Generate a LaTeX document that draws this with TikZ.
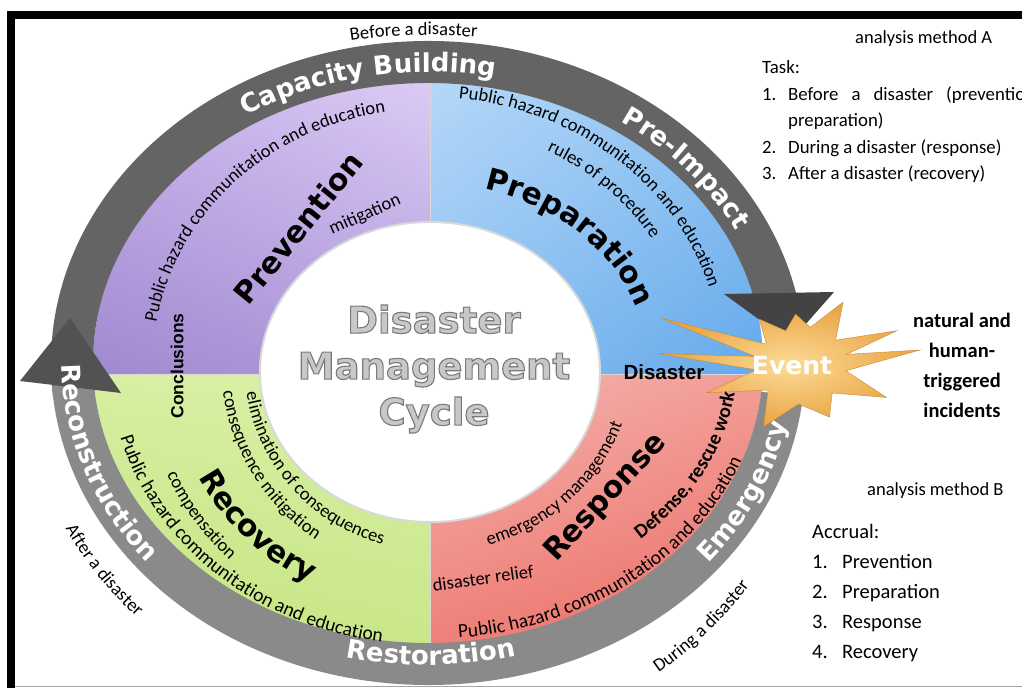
\documentclass[tikz,border=0pt]{standalone}
\usepackage{fontspec}
\setmainfont{Carlito}
\newfontfamily\verd{DejaVu Sans}
\newfontfamily\arialf{Liberation Sans}
\usetikzlibrary{decorations.text,shadings}

\newcommand\lbl{\fontsize{18.5}{22}\selectfont}
\newcommand\lblw{\fontsize{19.5}{23}\selectfont}
\newcommand\boldlbl{\bfseries\fontsize{20}{24}\selectfont}
\newcommand\ringtxt{\verd\bfseries\fontsize{26}{30}\selectfont}
\newcommand\bigword{\verd\bfseries\fontsize{30}{34}\selectfont}

\definecolor{ringtop}{HTML}{646464}
\definecolor{ringbot}{HTML}{8A8A8A}
\definecolor{headright}{HTML}{434343}
\definecolor{headleft}{HTML}{525252}
\definecolor{prevA}{HTML}{DCCBF5}
\definecolor{prevB}{HTML}{C6B1EA}
\definecolor{prevC}{HTML}{A188CF}
\definecolor{prevD}{HTML}{B29CDB}
\definecolor{prepA}{HTML}{B5D8F8}
\definecolor{prepB}{HTML}{92C4F3}
\definecolor{prepC}{HTML}{8CC0F1}
\definecolor{prepD}{HTML}{62A8EB}
\definecolor{respA}{HTML}{F5B5B2}
\definecolor{respB}{HTML}{F29C95}
\definecolor{respC}{HTML}{EE8078}
\definecolor{respD}{HTML}{EA6A62}
\definecolor{recA}{HTML}{D6EFA2}
\definecolor{recB}{HTML}{D9F0A8}
\definecolor{recC}{HTML}{C4E47F}
\definecolor{recD}{HTML}{C9E788}
\definecolor{starin}{HTML}{FCDB95}
\definecolor{starout}{HTML}{E9A444}
\definecolor{staredge}{HTML}{C8892F}
\definecolor{titlefg}{HTML}{C8C8C8}

\tikzset{
    ringarc/.style={line width=42},
    ringlabel/.style={decorate,decoration={text along path,text align=center,
        text color=white,text={|\ringtxt|#1}}},
    qlabel/.style={decorate,decoration={text along path,text align=center,
        text={|\lbl|#1}}},
    qlabelw/.style={decorate,decoration={text along path,text align=center,
        text={|\lblw|#1}}},
    qbold/.style={decorate,decoration={text along path,text align=center,
        text={|\boldlbl|#1}}},
    qbig/.style={decorate,decoration={text along path,text align=center,
        text={|\bigword|#1}}},
}

\begin{document}
\begin{tikzpicture}[x=1pt,y=1pt,
    lbltxt/.style={font=\lbl,inner sep=0},
    bigw/.style={font=\bigword},
    titlew/.style={font=\verd\bfseries\fontsize{37}{46}\selectfont,align=center}]
    \def\ringa{356}
    \def\ringb{301}
    \useasboundingbox (0,0) rectangle (1022,688);
    \fill[white] (0,0) rectangle (1022,688);

    % frame
    \fill[black] (7,669) rectangle (1022,677);
    \fill[black] (7,0) rectangle (15,677);
    \draw[gray!70,line width=1.5] (15,1.5) -- (1022,1.5);

    \coordinate (O) at (428,325);
    \coordinate (I) at (430,316);
    \coordinate (S) at (800,322);

    % four phases
    \begin{scope}
        \clip (O) ellipse[x radius=335,y radius=281];
        \shade[upper left=prevB,upper right=prevA,lower left=prevC,lower right=prevD]
            (80,313) rectangle (430,612);
        \shade[upper left=prepA,upper right=prepB,lower left=prepC,lower right=prepD]
            (430,313) rectangle (780,612);
        \shade[upper left=respA,upper right=respB,lower left=respC,lower right=respD]
            (430,40) rectangle (780,313);
        \shade[upper left=recA,upper right=recB,lower left=recC,lower right=recD]
            (80,40) rectangle (430,313);
        \draw[white!70!gray,line width=1] (430,40) -- (430,612) (80,313) -- (780,313);
    \end{scope}
    \fill[white,draw=gray!30,line width=2] (I) ellipse[x radius=170,y radius=150];

    % grey ring with the two arrows
    \draw[ringarc,ringtop,shift={(O)}] (186:\ringa\space and \ringb)
        arc[start angle=186,end angle=10,x radius=\ringa,y radius=\ringb];
    \fill[headright] (724,394) -- (834,396) -- (790,346) -- cycle;
    \draw[ringarc,ringbot,shift={(O)}] (-6:\ringa\space and \ringb)
        arc[start angle=-6,end angle=-176,x radius=\ringa,y radius=\ringb];
    \fill[headleft] (20,307) -- (121,295) -- (70,370) -- cycle;

    \path[shift={(O)},ringlabel={Capacity Building}] (131:346 and 291)
        arc[start angle=131,end angle=70,x radius=346,y radius=291];
    \path[shift={(O)},ringlabel={Pre-Impact}] (58:346 and 291)
        arc[start angle=58,end angle=25,x radius=346,y radius=291];
    \path[shift={(O)},ringlabel={Emergency}] (-44:366 and 311)
        arc[start angle=-44,end angle=-7,x radius=366,y radius=311];
    \path[shift={(O)},ringlabel={Restoration}] (-116:358 and 302)
        arc[start angle=-116,end angle=-63,x radius=358,y radius=302];
    \path[shift={(O)},ringlabel={Reconstruction}] (178:366 and 311)
        arc[start angle=178,end angle=222,x radius=366,y radius=311];

    % event star
    \shadedraw[inner color=starin,outer color=starout,draw=staredge,shift={(S)}]
        (7.6:121) -- (14:48) -- (20:103) -- (36:44) -- (56:77) -- (75:40) --
        (95:52) -- (112:38) -- (131:62) -- (147:40) -- (161:148) -- (168:46) --
        (175:143) -- (185:44) -- (196:97) -- (217:40) -- (239:71) -- (268:38) --
        (300:59) -- (320:42) -- (340:92) -- (354:46) -- cycle;
    \node[font=\verd\bfseries\fontsize{25}{28}\selectfont,text=white] (event) at (792,322) {Event};

    % outer time labels
    \path[shift={(O)},qlabel={Before a disaster}] (113:420 and 328)
        arc[start angle=113,end angle=71,x radius=420,y radius=328];
    \path[shift={(O)},qlabel={After a disaster}] (200:407 and 364)
        arc[start angle=200,end angle=231,x radius=407,y radius=364];
    \path[shift={(O)},qlabel={During a disaster}] (-60:396 and 381)
        arc[start angle=-60,end angle=-30,x radius=396,y radius=381];

    % prevention
    \path[shift={(O)},qlabel={Public hazard communitation and education}] (174:275 and 254)
        arc[start angle=174,end angle=96,x radius=275,y radius=254];
    \node[bigw,rotate=51] (prev) at (298,460) {Prevention};
    \node[lbltxt,rotate=24] (mitig) at (365,473) {mitigation};
    \node[font=\arialf\bfseries\fontsize{17.5}{20}\selectfont,rotate=90] (concl) at (177,322) {Conclusions};

    % preparation
    \path[shift={(O)},qlabel={Public hazard communitation and education}] (88:293 and 266)
        arc[start angle=88,end angle=12,x radius=293,y radius=266];
    \path[shift={(O)},qlabel={rules of procedure}] (68:262 and 238)
        arc[start angle=68,end angle=26,x radius=262,y radius=238];
    \path[shift={(O)},qbig={Preparation}] (80:219 and 180)
        arc[start angle=80,end angle=12,x radius=219,y radius=180];

    % response
    \path[shift={(O)},qlabel={emergency management}] (-80:205 and 191)
        arc[start angle=-80,end angle=-11,x radius=205,y radius=191];
    \node[bigw,rotate=47] (resp) at (606,190) {Response};
    \path[shift={(O)},qbold={Defense, rescue work}] (-50:309 and 243)
        arc[start angle=-50,end angle=-3,x radius=309,y radius=243];
    \path[shift={(O)},qlabelw={Public hazard communitation and education}] (-92:335 and 276)
        arc[start angle=-92,end angle=-12,x radius=335,y radius=276];
    \node[lbltxt,rotate=8] (relief) at (483,110) {disaster relief};
    \node[font=\arialf\bfseries\fontsize{20.5}{24}\selectfont] (disas) at (664,316) {Disaster};

    % recovery
    \path[shift={(O)},qlabelw={Public hazard communitation and education}] (186:319 and 282)
        arc[start angle=186,end angle=270,x radius=319,y radius=282];
    \path[shift={(O)},qlabel={compensation}] (198:286 and 274)
        arc[start angle=198,end angle=232,x radius=286,y radius=274];
    \path[shift={(O)},qbig={Recovery}] (194:259 and 247)
        arc[start angle=194,end angle=256,x radius=259,y radius=247];
    \path[shift={(O)},qlabel={consequence mitigation}] (180:207 and 210)
        arc[start angle=180,end angle=245,x radius=207,y radius=210];
    \path[shift={(O)},qlabel={elimination of consequences}] (182:184 and 187)
        arc[start angle=182,end angle=263,x radius=184,y radius=187];

    % centre title
    \node[titlew,text=titlefg] (title) at (434,319)
        {\special{pdf:literal direct 2 Tr 1.1 w 0.48 0.48 0.48 RG}Disaster\\Management\\Cycle\special{pdf:literal direct 0 Tr}};

    % right hand notes
    \node[font=\bfseries\fontsize{20.5}{30}\selectfont,align=center] (incid) at (962,323)
        {natural and\\human-\\triggered\\incidents};
    \node[lbltxt,anchor=base west] (methA) at (855,644) {analysis method A};
    \node[anchor=base west,inner sep=0,font=\fontsize{18.8}{26.5}\selectfont] (task) at (762,614)
        {\begin{tabular}[t]{@{}p{26pt}@{}l@{}}
        \multicolumn{2}{@{}l@{}}{Task:}\\
        1.&Before\hspace{13pt}a\hspace{13pt}disaster\hspace{13pt}(prevention\\
        &preparation)\\
        2.&During a disaster (response)\\
        3.&After a disaster (recovery)
        \end{tabular}};
    \node[lbltxt,anchor=base west] (methB) at (867,192) {analysis method B};
    \node[anchor=base west,inner sep=0,font=\fontsize{20.5}{30}\selectfont] (accr) at (812,149)
        {\begin{tabular}[t]{@{}p{30pt}@{}l@{}}
        \multicolumn{2}{@{}l@{}}{Accrual:}\\
        1.&Prevention\\
        2.&Preparation\\
        3.&Response\\
        4.&Recovery
        \end{tabular}};
\end{tikzpicture}
\end{document}
